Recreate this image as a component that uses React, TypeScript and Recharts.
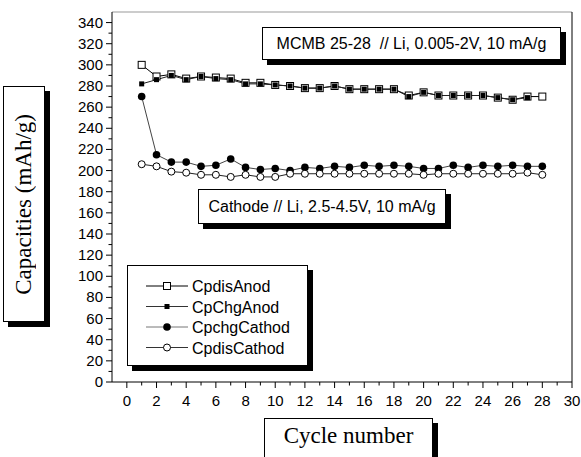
import {
  ComposedChart,
  Legend,
  Line,
  ReferenceLine,
  XAxis,
  YAxis,
} from "recharts";

const cycles = [1, 2, 3, 4, 5, 6, 7, 8, 9, 10, 11, 12, 13, 14, 15, 16, 17, 18, 19, 20, 21, 22, 23, 24, 25, 26, 27, 28];
const cpDisAnod = [300, 289, 291, 287, 289, 288, 287, 283, 283, 281, 280, 278, 278, 280, 277, 277, 277, 277, 271, 274, 271, 271, 271, 271, 269, 267, 270, 270];
const cpChgAnod = [282, 286, 290, 286, 289, 287, 286, 282, 282, 281, 280, 278, 278, 280, 277, 277, 277, 277, 270, 274, 271, 271, 271, 271, 269, 267, 269, null];
const cpChgCathod = [270, 215, 208, 208, 204, 205, 211, 203, 201, 202, 200, 203, 202, 204, 203, 205, 204, 205, 204, 202, 202, 205, 203, 205, 204, 205, 204, 204];
const cpDisCathod = [206, 204, 199, 198, 196, 196, 194, 196, 194, 194, 197, 197, 197, 197, 197, 197, 197, 197, 197, 196, 197, 197, 197, 197, 197, 197, 198, 196];

const xTicks = [0, 1, 2, 3, 4, 5, 6, 7, 8, 9, 10, 11, 12, 13, 14, 15, 16, 17, 18, 19, 20, 21, 22, 23, 24, 25, 26, 27, 28, 29, 30];
const yTicks = [0, 10, 20, 30, 40, 50, 60, 70, 80, 90, 100, 110, 120, 130, 140, 150, 160, 170, 180, 190, 200, 210, 220, 230, 240, 250, 260, 270, 280, 290, 300, 310, 320, 330, 340];

const data = cycles.map((c, i) => ({
  cycle: c,
  CpdisAnod: cpDisAnod[i],
  CpChgAnod: cpChgAnod[i],
  CpchgCathod: cpChgCathod[i],
  CpdisCathod: cpDisCathod[i],
}));

const SANS = "'Liberation Sans', Arial, sans-serif";
const SERIF = "'Liberation Serif', 'Times New Roman', serif";

type Kind = "openSquare" | "filledSquare" | "filledCircle" | "openCircle";

function Marker({ kind, cx, cy }: { kind: Kind; cx: number; cy: number }) {
  if (kind === "openSquare")
    return <rect x={cx - 3.5} y={cy - 3.5} width={7} height={7} fill="#fff" stroke="#000" strokeWidth={1} />;
  if (kind === "filledSquare")
    return <rect x={cx - 2.5} y={cy - 2.5} width={5} height={5} fill="#000" />;
  if (kind === "filledCircle") return <circle cx={cx} cy={cy} r={3.8} fill="#000" />;
  return <circle cx={cx} cy={cy} r={3.5} fill="#fff" stroke="#000" strokeWidth={1} />;
}

const dotFor = (kind: Kind, name: string) => (p: any) => {
  if (p.cy == null || p.value == null) return <g key={`${name}-${p.index}`} />;
  return (
    <g key={`${name}-${p.index}`}>
      <Marker kind={kind} cx={p.cx} cy={p.cy} />
    </g>
  );
};

function XTick({ x, y, payload }: any) {
  const major = payload.value % 2 === 0;
  return (
    <g>
      <line x1={x} x2={x} y1={y} y2={y + (major ? 6 : 3.5)} stroke="#000" />
      {major && (
        <text x={x} y={y + 24} textAnchor="middle" fontSize={15} fontFamily={SANS} fill="#000">
          {payload.value}
        </text>
      )}
    </g>
  );
}

function YTick({ x, y, payload }: any) {
  const major = payload.value % 20 === 0;
  return (
    <g>
      <line x1={x} x2={x - (major ? 6 : 3.5)} y1={y} y2={y} stroke="#000" />
      {major && (
        <text x={x - 9} y={y + 5} textAnchor="end" fontSize={15} fontFamily={SANS} fill="#000">
          {payload.value}
        </text>
      )}
    </g>
  );
}

const legendItems: { name: string; kind: Kind; stroke: string }[] = [
  { name: "CpdisAnod", kind: "openSquare", stroke: "#000" },
  { name: "CpChgAnod", kind: "filledSquare", stroke: "#333" },
  { name: "CpchgCathod", kind: "filledCircle", stroke: "#777" },
  { name: "CpdisCathod", kind: "openCircle", stroke: "#333" },
];

function LegendBox() {
  return (
    <svg width={181} height={101} style={{ display: "block" }}>
      {legendItems.map((it, i) => {
        const cy = 20 + i * 20.5;
        return (
          <g key={it.name}>
            <line x1={18} x2={60} y1={cy} y2={cy} stroke={it.stroke} />
            <Marker kind={it.kind} cx={39} cy={cy} />
            <text x={64} y={cy + 6} fontSize={16} fontFamily={SANS} fill="#000">
              {it.name}
            </text>
          </g>
        );
      })}
    </svg>
  );
}

const boxStyle: React.CSSProperties = {
  position: "absolute",
  border: "1px solid #000",
  background: "#fff",
  boxShadow: "5px 5px 0 #000",
  boxSizing: "border-box",
  color: "#000",
};

export default function App() {
  return (
    <div style={{ position: "absolute", left: 0, top: 0, width: 581, height: 457, background: "#fff", overflow: "hidden" }}>
      <ComposedChart width={581} height={457} data={data} margin={{ top: 12, right: 9, bottom: 45, left: 52 }}>
        <XAxis
          dataKey="cycle"
          type="number"
          domain={[-1, 30]}
          ticks={xTicks}
          interval={0}
          height={30}
          tickSize={0}
          tickMargin={0}
          tickLine={false}
          tick={<XTick />}
          axisLine={{ stroke: "#000" }}
          allowDataOverflow
        />
        <YAxis
          type="number"
          domain={[0, 350]}
          ticks={yTicks}
          interval={0}
          width={60}
          tickSize={0}
          tickMargin={0}
          tickLine={false}
          tick={<YTick />}
          axisLine={{ stroke: "#000" }}
          allowDataOverflow
        />
        <ReferenceLine y={350} stroke="#999" />
        <ReferenceLine x={30} stroke="#000" />
        <Legend
          layout="horizontal"
          align="center"
          verticalAlign="middle"
          content={() => <LegendBox />}
          wrapperStyle={{
            left: 127,
            top: 265,
            width: 181,
            height: 101,
            border: "1px solid #000",
            background: "#fff",
            boxShadow: "5px 5px 0 #000",
            boxSizing: "border-box",
          }}
        />
        <Line dataKey="CpdisAnod" name="CpdisAnod" stroke="#000" strokeWidth={1} dot={dotFor("openSquare", "da")} isAnimationActive={false} />
        <Line dataKey="CpChgAnod" name="CpChgAnod" stroke="#222" strokeWidth={1} dot={dotFor("filledSquare", "ca")} isAnimationActive={false} />
        <Line dataKey="CpchgCathod" name="CpchgCathod" stroke="#444" strokeWidth={1} dot={dotFor("filledCircle", "cc")} isAnimationActive={false} />
        <Line dataKey="CpdisCathod" name="CpdisCathod" stroke="#222" strokeWidth={1} dot={dotFor("openCircle", "dc")} isAnimationActive={false} />
      </ComposedChart>

      <div
        style={{
          ...boxStyle,
          left: 262,
          top: 27,
          width: 299,
          height: 33,
          fontFamily: SANS,
          fontSize: 16,
          lineHeight: "31px",
          textAlign: "center",
          whiteSpace: "pre",
        }}
      >
        {"MCMB 25-28  // Li, 0.005-2V, 10 mA/g"}
      </div>
      <div
        style={{
          ...boxStyle,
          left: 198,
          top: 189,
          width: 248,
          height: 35,
          fontFamily: SANS,
          fontSize: 16,
          lineHeight: "33px",
          textAlign: "center",
          whiteSpace: "pre",
        }}
      >
        Cathode // Li, 2.5-4.5V, 10 mA/g
      </div>
      <div
        style={{
          ...boxStyle,
          left: 3,
          top: 86,
          width: 42,
          height: 236,
          display: "flex",
          alignItems: "center",
          justifyContent: "center",
        }}
      >
        <div
          style={{
            fontFamily: SERIF,
            fontSize: 23,
            whiteSpace: "nowrap",
            writingMode: "vertical-rl",
            transform: "rotate(180deg)",
          }}
        >
          Capacities (mAh/g)
        </div>
      </div>
      <div
        style={{
          ...boxStyle,
          left: 264,
          top: 418,
          width: 169,
          height: 50,
          fontFamily: SERIF,
          fontSize: 23,
          lineHeight: "34px",
          textAlign: "center",
        }}
      >
        Cycle number
      </div>
    </div>
  );
}
